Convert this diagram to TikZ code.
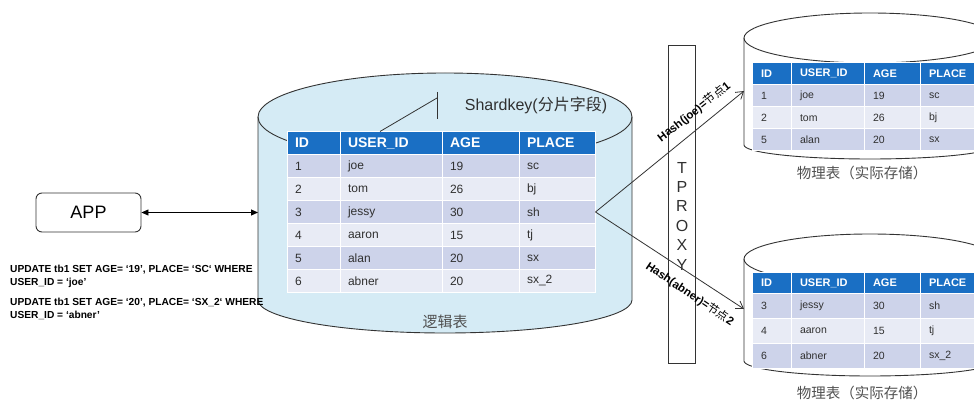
\documentclass[tikz,border=0pt]{standalone}
\usepackage{fontspec}
\setmainfont{Liberation Sans}
\newfontfamily\cjk{Noto Sans CJK SC}
\usetikzlibrary{arrows.meta}
\definecolor{hdr}{HTML}{1A6FC4}
\definecolor{rowA}{HTML}{CDD3EA}
\definecolor{rowB}{HTML}{E8EBF5}
\definecolor{cylblue}{HTML}{D5EBF5}
\definecolor{edge}{HTML}{333333}
\definecolor{txt}{HTML}{303030}
\definecolor{gtxt}{HTML}{505050}
\tikzset{
  cellbase/.style={rectangle, draw=white, line width=1pt, inner xsep=8pt, inner ysep=0pt, align=left, anchor=center},
  mh/.style={cellbase, fill=hdr, text=white, minimum height=23pt, font=\bfseries\fontsize{14}{16}\selectfont},
  mr/.style={cellbase, text=txt, minimum height=23pt, font=\fontsize{12}{14}\selectfont},
  rh/.style={cellbase, inner xsep=9pt, fill=hdr, text=white, font=\bfseries\fontsize{11}{13}\selectfont},
  rr/.style={cellbase, inner xsep=9pt, text=txt, font=\fontsize{10.5}{12}\selectfont},
  cyl/.style={draw=edge, line width=0.9pt},
  hashlbl/.style={font=\bfseries\fontsize{11.5}{13}\selectfont, inner sep=1pt},
  phys/.style={font=\cjk\fontsize{14.5}{16}\selectfont, text=gtxt},
  sqltxt/.style={font=\bfseries\fontsize{10.2}{13}\selectfont, align=left, anchor=west, inner sep=0pt},
  barb/.style={-{Straight Barb[length=7pt,width=9pt]}, line width=0.8pt, draw=edge},
}
\begin{document}
\begin{tikzpicture}[x=1pt,y=1pt]
\clip (0,0) rectangle (974,-403);
\fill[white] (0,0) rectangle (974,-403);

% ---------- main logical cylinder ----------
\filldraw[cyl, fill=cylblue] (258,-117) -- (258,-300)
  arc[start angle=180,end angle=360,x radius=187,y radius=33] -- (632,-117)
  arc[start angle=0,end angle=180,x radius=187,y radius=44] -- cycle;
\draw[cyl] (258,-117) arc[start angle=180,end angle=360,x radius=187,y radius=44];

% main table header
\node[mh, text width=37pt] (m0a) at (313.5,-143) {ID};
\node[mh, text width=86pt] (m0b) at (391,-143) {USER\_ID};
\node[mh, text width=61pt] (m0c) at (480.5,-143) {AGE};
\node[mh, text width=60pt] (m0d) at (557,-143) {PLACE};
\foreach \r/\fc/\a/\b/\c/\d in {1/rowA/1/joe/19/sc, 2/rowB/2/tom/26/bj, 3/rowA/3/jessy/30/sh, 4/rowB/4/aaron/15/tj, 5/rowA/5/alan/20/sx, 6/rowB/6/abner/20/sx\_2}{
  \pgfmathsetmacro{\yy}{-(166+23*(\r-1))}
  \node[mr, fill=\fc, text width=37pt] (m\r a) at (313.5,\yy) {\a};
  \node[mr, fill=\fc, text width=86pt] (m\r b) at (391,\yy) {\b};
  \node[mr, fill=\fc, text width=61pt] (m\r c) at (480.5,\yy) {\c};
  \node[mr, fill=\fc, text width=60pt] (m\r d) at (557,\yy) {\d};
}

% shardkey callout
\coordinate (sk1) at (380,-131.5);
\coordinate (sk2) at (437,-98);
\coordinate (sk3) at (437,-92);
\coordinate (sk4) at (437,-119);
\draw[edge, line width=0.8pt] (sk1) -- (sk2);
\draw[edge, line width=0.8pt] (sk3) -- (sk4);
\node[font=\fontsize{16}{18}\selectfont, text=txt] (shard) at (536,-105) {Shardkey({\cjk 分片字段})};
\node[font=\cjk\fontsize{15}{17}\selectfont, text=gtxt] (logic) at (445,-322) {逻辑表};

% ---------- APP ----------
\node[draw=edge, line width=0.9pt, rounded corners=6pt, minimum width=105pt, minimum height=39pt, font=\fontsize{18}{20}\selectfont] (app) at (88.5,-212.5) {APP};
\coordinate (cylL) at (258,-212.5);
\draw[{Triangle[length=7pt,width=6pt]}-{Triangle[length=7pt,width=6pt]}, line width=0.9pt] (app.east) -- (cylL);

\node[sqltxt] (sql1) at (10,-276.5) {UPDATE tb1 SET AGE= ‘19’, PLACE= ‘SC‘ WHERE\\USER\_ID = ‘joe’};
\node[sqltxt] (sql2) at (10,-308.5) {UPDATE tb1 SET AGE= ‘20’, PLACE= ‘SX\_2‘ WHERE\\USER\_ID = ‘abner’};

% ---------- TPROXY ----------
\node[draw=edge, line width=0.9pt, minimum width=27pt, minimum height=318pt, inner sep=0pt] (proxy) at (682,-204) {};
\node[align=center, font=\fontsize{16}{19.4}\selectfont, text=txt, inner sep=0pt] (proxytxt) at (682,-216) {T\\P\\R\\O\\X\\Y};

% ---------- physical cylinders ----------
% top
\filldraw[cyl, fill=white] (744,-38) -- (744,-145)
  arc[start angle=180,end angle=360,x radius=126,y radius=14] -- (996,-38)
  arc[start angle=0,end angle=180,x radius=126,y radius=25] -- cycle;
\draw[cyl] (744,-38) arc[start angle=180,end angle=360,x radius=126,y radius=25];
% bottom
\filldraw[cyl, fill=white] (744,-259) -- (744,-361)
  arc[start angle=180,end angle=360,x radius=126,y radius=15] -- (996,-259)
  arc[start angle=0,end angle=180,x radius=126,y radius=25] -- cycle;
\draw[cyl] (744,-259) arc[start angle=180,end angle=360,x radius=126,y radius=25];

% top physical table
\node[rh, minimum height=22pt, text width=21pt] (t0a) at (771.5,-73.5) {ID};
\node[rh, minimum height=22pt, text width=55pt] (t0b) at (827.5,-73.5) {USER\_ID};
\node[rh, minimum height=22pt, text width=38pt] (t0c) at (892,-73.5) {AGE};
\node[rh, minimum height=22pt, text width=42pt] (t0d) at (950,-73.5) {PLACE};
\foreach \r/\fc/\a/\b/\c/\d in {1/rowA/1/joe/19/sc, 2/rowB/2/tom/26/bj, 3/rowA/5/alan/20/sx}{
  \pgfmathsetmacro{\yy}{-(96+22*(\r-1))}
  \node[rr, fill=\fc, minimum height=22pt, text width=21pt] (t\r a) at (771.5,\yy) {\a};
  \node[rr, fill=\fc, minimum height=22pt, text width=55pt] (t\r b) at (827.5,\yy) {\b};
  \node[rr, fill=\fc, minimum height=22pt, text width=38pt] (t\r c) at (892,\yy) {\c};
  \node[rr, fill=\fc, minimum height=22pt, text width=42pt] (t\r d) at (950,\yy) {\d};
}
\node[phys] (phys1) at (862,-173) {物理表（实际存储）};

% bottom physical table
\node[rh, minimum height=21pt, text width=21pt] (b0a) at (771.5,-283) {ID};
\node[rh, minimum height=21pt, text width=55pt] (b0b) at (827.5,-283) {USER\_ID};
\node[rh, minimum height=21pt, text width=38pt] (b0c) at (892,-283) {AGE};
\node[rh, minimum height=21pt, text width=42pt] (b0d) at (950,-283) {PLACE};
\foreach \r/\fc/\a/\b/\c/\d in {1/rowA/3/jessy/30/sh, 2/rowB/4/aaron/15/tj, 3/rowA/6/abner/20/sx\_2}{
  \pgfmathsetmacro{\yy}{-(306+25*(\r-1))}
  \node[rr, fill=\fc, minimum height=25pt, text width=21pt] (b\r a) at (771.5,\yy) {\a};
  \node[rr, fill=\fc, minimum height=25pt, text width=55pt] (b\r b) at (827.5,\yy) {\b};
  \node[rr, fill=\fc, minimum height=25pt, text width=38pt] (b\r c) at (892,\yy) {\c};
  \node[rr, fill=\fc, minimum height=25pt, text width=42pt] (b\r d) at (950,\yy) {\d};
}
\node[phys] (phys2) at (862,-393) {物理表（实际存储）};

% ---------- hash connectors ----------
\coordinate (in1) at (744,-91);
\coordinate (in2) at (744,-309);
\draw[barb] (m3d.east) -- (in1);
\draw[barb] (m3d.east) -- (in2);
\node[hashlbl, rotate=38] (h1) at (694,-112) {Hash(joe)={\cjk\mdseries 节点}1};
\node[hashlbl, rotate=-34] (h2) at (690,-294) {Hash(abner)={\cjk\mdseries 节点}2};
\end{tikzpicture}
\end{document}
